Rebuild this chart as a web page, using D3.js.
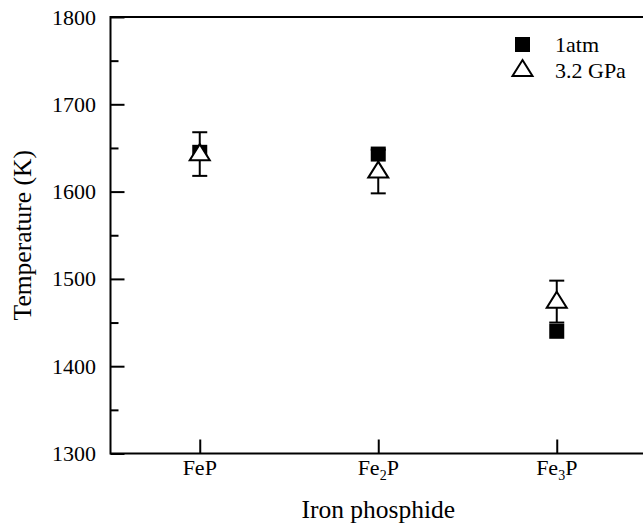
<!DOCTYPE html>
<html>
<head>
<meta charset="utf-8">
<script src="https://cdn.jsdelivr.net/npm/d3@7"></script>
<style>
  html, body { margin: 0; padding: 0; background: #fff; }
  svg { display: block; }
  text { font-family: "Liberation Serif", "Times New Roman", serif; fill: #000; }
</style>
</head>
<body>
<svg id="chart" width="643" height="524"></svg>
<script>
// ---- data ----
const categories = ["FeP", "Fe2P", "Fe3P"];
const categorySubscripts = ["", "2", "3"];
const atm1Values = [1645, 1643, 1440];
const gpaValues = [1643, 1623, 1474];
const gpaErrors = [25, 25, 24];
const yTicks = [1300, 1400, 1500, 1600, 1700, 1800];
const yMinorTicks = [1350, 1450, 1550, 1650, 1750];
const seriesNames = ["1atm", "3.2 GPa"];

(function () {
const svg = d3.select("#chart");
const mLeft = 110.5, mRight = 646, mTop = 17, mBottom = 453.5;
const fs = 22;

const x = d3.scaleLinear().domain([0.5, 3.5]).range([mLeft, mRight]);
const y = d3.scaleLinear().domain([1300, 1800]).range([mBottom, mTop]);

// axes frame (left, bottom, top)
const frame = svg.append("g").attr("stroke", "#000").attr("stroke-width", 2).attr("fill", "none");
frame.append("path").attr("d", `M${mRight},${mTop} H${mLeft} V${mBottom} H${mRight}`);

// y axis ticks (inward)
const yAxis = d3.axisRight(y).tickValues(yTicks).tickSize(14).tickFormat("");
const gy = svg.append("g").attr("transform", `translate(${mLeft},0)`).call(yAxis);
gy.select(".domain").remove();
gy.selectAll(".tick line").attr("stroke-width", 2);
const yAxisMinor = d3.axisRight(y).tickValues(yMinorTicks).tickSize(8).tickFormat("");
const gym = svg.append("g").attr("transform", `translate(${mLeft},0)`).call(yAxisMinor);
gym.select(".domain").remove();
gym.selectAll(".tick line").attr("stroke-width", 2);

// y tick labels
svg.append("g").selectAll("text").data(yTicks).join("text")
  .attr("x", 96).attr("y", d => y(d) + 7.5)
  .attr("text-anchor", "end").attr("font-size", fs)
  .text(d => d);

// x axis ticks (inward)
const xAxis = d3.axisTop(x).tickValues([1, 2, 3]).tickSize(14).tickFormat("");
const gx = svg.append("g").attr("transform", `translate(0,${mBottom})`).call(xAxis);
gx.select(".domain").remove();
gx.selectAll(".tick line").attr("stroke-width", 2);

// x tick labels with subscripts
categories.forEach((c, i) => {
  const t = svg.append("text").attr("x", x(i + 1)).attr("y", 475)
    .attr("text-anchor", "middle").attr("font-size", fs);
  if (categorySubscripts[i]) {
    t.append("tspan").text("Fe");
    t.append("tspan").attr("dy", 5).attr("font-size", 14).text(categorySubscripts[i]);
    t.append("tspan").attr("dy", -5).text("P");
  } else {
    t.text(c);
  }
});

// axis titles
svg.append("text").attr("x", x(2)).attr("y", 518)
  .attr("text-anchor", "middle").attr("font-size", 25.5).text("Iron phosphide");
svg.append("text").attr("transform", `translate(31,${(mTop + mBottom) / 2}) rotate(-90)`)
  .attr("text-anchor", "middle").attr("font-size", 25.5).text("Temperature (K)");

const sq = 15;
const triPath = (cx, cy) => {
  const w = 20, h = 16;
  return `M${cx},${cy - h * 0.62} L${cx + w / 2},${cy + h * 0.38} L${cx - w / 2},${cy + h * 0.38} Z`;
};

// squares (1atm)
svg.append("g").selectAll("rect").data(atm1Values).join("rect")
  .attr("x", (d, i) => x(i + 1) - sq / 2).attr("y", d => y(d) - sq / 2)
  .attr("width", sq).attr("height", sq).attr("fill", "#000");

// error bars (3.2 GPa)
const eb = svg.append("g").attr("stroke", "#000").attr("stroke-width", 2);
gpaValues.forEach((v, i) => {
  const cx = x(i + 1);
  eb.append("line").attr("x1", cx).attr("x2", cx).attr("y1", y(v + gpaErrors[i])).attr("y2", y(v - gpaErrors[i]));
  eb.append("line").attr("x1", cx - 7.5).attr("x2", cx + 7.5).attr("y1", y(v + gpaErrors[i])).attr("y2", y(v + gpaErrors[i]));
  eb.append("line").attr("x1", cx - 7.5).attr("x2", cx + 7.5).attr("y1", y(v - gpaErrors[i])).attr("y2", y(v - gpaErrors[i]));
});

// triangles (3.2 GPa)
svg.append("g").selectAll("path").data(gpaValues).join("path")
  .attr("d", (d, i) => triPath(x(i + 1), y(d)))
  .attr("fill", "#fff").attr("stroke", "#000").attr("stroke-width", 2);

// legend
const lg = svg.append("g");
lg.append("rect").attr("x", 515).attr("y", 37).attr("width", sq).attr("height", sq).attr("fill", "#000");
lg.append("text").attr("x", 555).attr("y", 52).attr("font-size", fs).text(seriesNames[0]);
lg.append("path").attr("d", triPath(522.5, 70)).attr("fill", "#fff").attr("stroke", "#000").attr("stroke-width", 2);
lg.append("text").attr("x", 555).attr("y", 78).attr("font-size", fs).text(seriesNames[1]);
})();
</script>
</body>
</html>
